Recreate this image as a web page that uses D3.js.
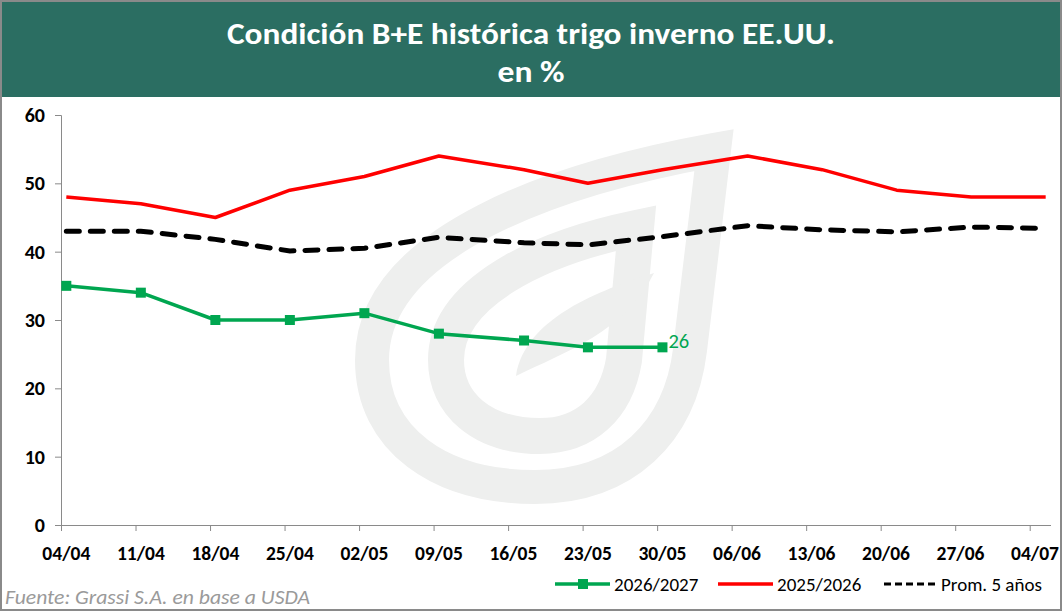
<!DOCTYPE html>
<html>
<head>
<meta charset="utf-8">
<script src="https://cdn.jsdelivr.net/npm/d3@7"></script>
<style>
  html, body { margin: 0; padding: 0; background: #fff; }
  svg { display: block; }
  text { font-family: Carlito, Calibri, "Open Sans", sans-serif; }
</style>
</head>
<body>
<div id="chart"></div>
<script>
// datos (fechas comunes del eje, formato dia/mes 2026)
const dates = ["2026-04-04","2026-04-11","2026-04-18","2026-04-25","2026-05-02","2026-05-09","2026-05-17",
               "2026-05-23","2026-05-30","2026-06-07","2026-06-14","2026-06-21","2026-06-28","2026-07-05"];
const s2627 = [35, 34, 30, 30, 31, 28, 27, 26, 26];
const s2526 = [48, 47, 45, 49, 51, 54, 52, 50, 52, 54, 52, 49, 48, 48];
const prom5 = [43, 43, 41.8, 40.1, 40.5, 42.1, 41.3, 41, 42.2, 43.8, 43.2, 42.9, 43.6, 43.4];
const tickDates = ["2026-04-04","2026-04-11","2026-04-18","2026-04-25","2026-05-02","2026-05-09","2026-05-16",
                   "2026-05-23","2026-05-30","2026-06-06","2026-06-13","2026-06-20","2026-06-27","2026-07-04"];
const yTicks = [0, 10, 20, 30, 40, 50, 60];
const seriesNames = ["2026/2027", "2025/2026", "Prom. 5 años"];

const W = 1062, H = 611;
const parse = d3.timeParse("%Y-%m-%d");
const fmt = d3.timeFormat("%d/%m");
const halfDay = d => d3.timeHour.offset(d, 12);

const svg = d3.select('#chart').append('svg')
    .attr('width', W)
    .attr('height', H);

svg.append('rect')
    .attr('x', 1).attr('y', 1)
    .attr('width', W - 2).attr('height', H - 2)
    .attr('fill', '#fff')
    .attr('stroke', '#8a8a8a')
    .attr('stroke-width', 2);

// cabecera
svg.append('rect')
    .attr('x', 2).attr('y', 2)
    .attr('width', W - 4).attr('height', 95)
    .attr('fill', '#2b6e62');

svg.append('text')
    .attr('x', 531).attr('y', 44)
    .attr('text-anchor', 'middle')
    .attr('fill', '#fff')
    .attr('font-weight', 'bold')
    .attr('font-size', 31)
    .attr('textLength', 608)
    .attr('lengthAdjust', 'spacingAndGlyphs')
    .text('Condición B+E histórica trigo inverno EE.UU.');

svg.append('text')
    .attr('x', 531).attr('y', 82)
    .attr('text-anchor', 'middle')
    .attr('fill', '#fff')
    .attr('font-weight', 'bold')
    .attr('font-size', 31)
    .attr('textLength', 67)
    .attr('lengthAdjust', 'spacingAndGlyphs')
    .text('en %');

// escalas
const x = d3.scaleTime()
    .domain([parse("2026-04-04"), parse("2026-07-06")])
    .range([61, 1051]);
const y = d3.scaleLinear()
    .domain([0, 60])
    .range([525, 115]);

// marca de agua
const wm = svg.append('g').attr('fill', 'none').attr('stroke', '#eeefee').attr('stroke-linejoin', 'miter');
wm.append('path')
    .attr('stroke-width', 34)
    .attr('d', 'M714,150 L690,350 C680,432 625,487 535,487 C440,487 372,440 372,360 C372,240 560,178 714,150 Z');
wm.append('path')
    .attr('stroke-width', 36)
    .attr('d', 'M636,228 L624,360 C616,408 585,436 540,436 C482,436 446,404 446,360 C446,292 540,248 636,228 Z');
wm.append('path')
    .attr('fill', '#eeefee').attr('stroke', 'none')
    .attr('d', 'M654,273 C600,290 525,318 516,376 C565,352 625,332 654,273 Z');

// ejes
const yAxis = svg.append('g')
    .attr('transform', 'translate(61,0)')
    .call(d3.axisLeft(y).tickValues(yTicks).tickSize(6).tickPadding(10));
yAxis.select('.domain').attr('stroke', '#8a8a8a');
yAxis.selectAll('.tick line').attr('stroke', '#8a8a8a');
yAxis.selectAll('.tick text')
    .attr('font-size', 20).attr('font-weight', 'bold').attr('fill', '#000')
    .attr('font-family', 'Carlito, Calibri, "Open Sans", sans-serif');

const xAxis = svg.append('g')
    .attr('transform', 'translate(0,525)')
    .call(d3.axisBottom(x).tickValues(tickDates.map(parse)).tickSize(6).tickFormat(() => ''));
xAxis.select('.domain').attr('stroke', '#8a8a8a').attr('d', 'M61,0.5H1051');
xAxis.selectAll('.tick line').attr('stroke', '#8a8a8a');

svg.append('g').selectAll('text')
    .data(tickDates)
    .enter().append('text')
    .attr('x', d => x(halfDay(parse(d))))
    .attr('y', 560)
    .attr('text-anchor', 'middle')
    .attr('font-size', 19.5).attr('font-weight', 'bold')
    .text(d => fmt(parse(d)));

// lineas
const line = d3.line()
    .x(d => x(halfDay(d.date)))
    .y(d => y(d.value));
const toPts = vals => vals.map((v, i) => ({ date: parse(dates[i]), value: v }));

svg.append('path')
    .datum(toPts(prom5))
    .attr('fill', 'none')
    .attr('stroke', '#000')
    .attr('stroke-width', 5)
    .attr('stroke-linecap', 'round')
    .attr('stroke-dasharray', '13,11')
    .attr('d', line);

svg.append('path')
    .datum(toPts(s2526))
    .attr('fill', 'none')
    .attr('stroke', '#ff0000')
    .attr('stroke-width', 3.5)
    .attr('stroke-linejoin', 'round')
    .attr('d', line);

const green = toPts(s2627);
svg.append('path')
    .datum(green)
    .attr('fill', 'none')
    .attr('stroke', '#00a650')
    .attr('stroke-width', 3.5)
    .attr('stroke-linejoin', 'round')
    .attr('d', line);

svg.append('g').selectAll('rect')
    .data(green)
    .enter().append('rect')
    .attr('x', d => x(halfDay(d.date)) - 5)
    .attr('y', d => y(d.value) - 5)
    .attr('width', 10).attr('height', 10)
    .attr('fill', '#00a650');

const last = green[green.length - 1];
svg.append('text')
    .attr('x', x(halfDay(last.date)) + 6)
    .attr('y', y(last.value) + 1)
    .attr('fill', '#00a650')
    .attr('font-size', 20.5)
    .text(last.value);

// leyenda
const leg = svg.append('g').attr('transform', 'translate(0,584)');
const legX = [555, 718, 882];
leg.append('line').attr('x1', legX[0]).attr('x2', legX[0] + 55)
    .attr('stroke', '#00a650').attr('stroke-width', 3.5);
leg.append('rect').attr('x', legX[0] + 23).attr('y', -5).attr('width', 10).attr('height', 10).attr('fill', '#00a650');
leg.append('line').attr('x1', legX[1]).attr('x2', legX[1] + 55)
    .attr('stroke', '#ff0000').attr('stroke-width', 3.5);
leg.append('line').attr('x1', legX[2] + 2).attr('x2', legX[2] + 54)
    .attr('stroke', '#000').attr('stroke-width', 3)
    .attr('stroke-dasharray', '7,4');
leg.selectAll('text.lab')
    .data(seriesNames)
    .enter().append('text')
    .attr('class', 'lab')
    .attr('x', (d, i) => legX[i] + 59)
    .attr('y', 6.5)
    .attr('font-size', 19)
    .text(d => d);

// fuente
svg.append('text')
    .attr('x', 5).attr('y', 604)
    .attr('font-size', 20.5)
    .attr('font-style', 'italic')
    .attr('fill', '#9a9a9a')
    .attr('textLength', 305)
    .attr('lengthAdjust', 'spacingAndGlyphs')
    .text('Fuente: Grassi S.A. en base a USDA');
</script>
</body>
</html>
